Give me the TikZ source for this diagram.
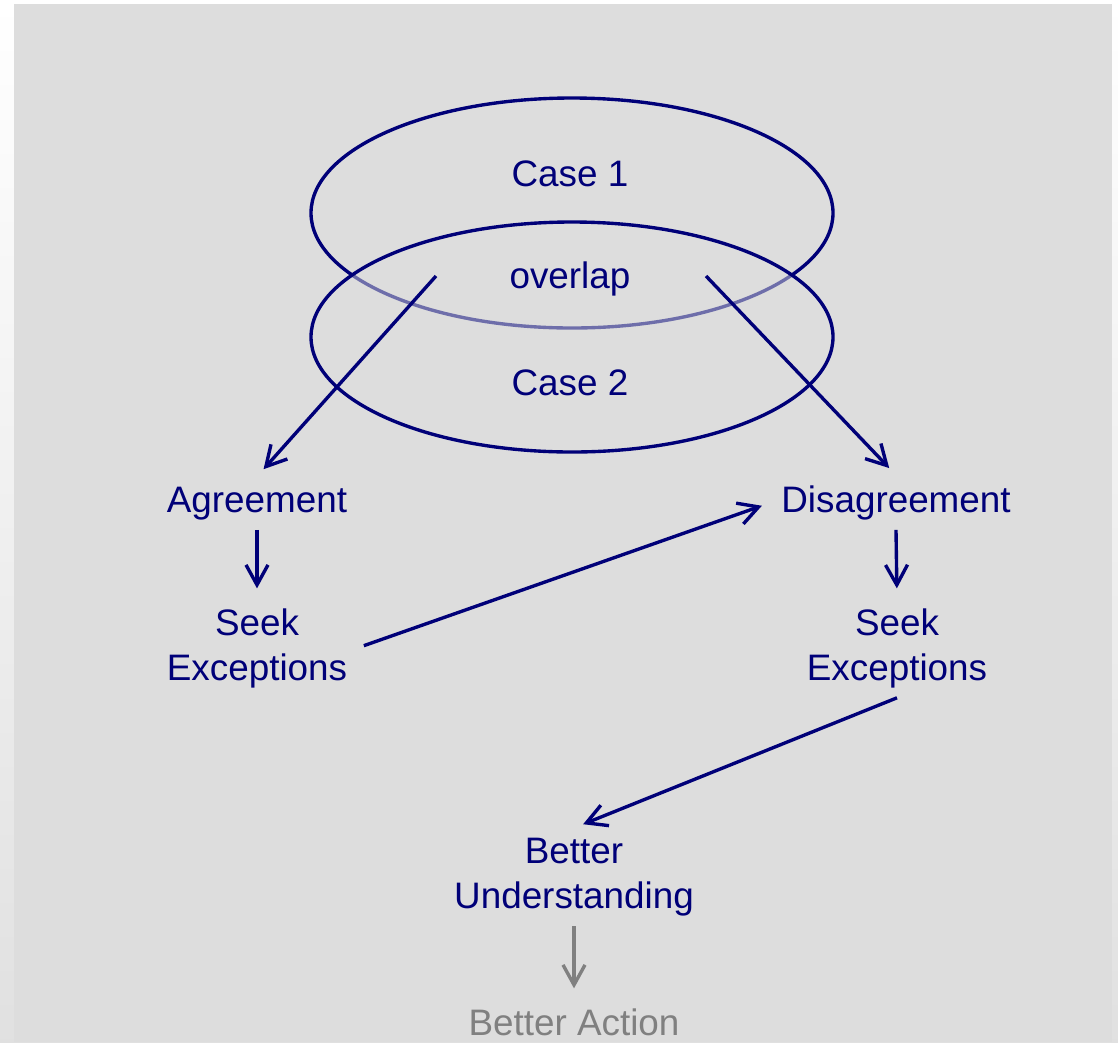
\documentclass[tikz,border=0pt]{standalone}
\usepackage{fontspec}
\setmainfont{Liberation Sans}
\usetikzlibrary{arrows.meta}
\definecolor{dnavy}{RGB}{0,0,120}
\definecolor{slide}{RGB}{221,221,221}
\definecolor{dimgrey}{RGB}{128,128,128}

\begin{document}
\begin{tikzpicture}[x=0.025cm, y=-0.025cm,
  every node/.style={font=\fontsize{26.2}{32}\selectfont, text=dnavy, inner sep=7pt, align=center},
  flow/.style={draw=dnavy, line width=2.4pt, -{Straight Barb[length=5mm, width=5.5mm]}, shorten >=7pt},
  ring/.style={draw=dnavy, line width=2.4pt}]
  % slide background
  \shade[top color=white, bottom color=black!12] (0,0) rectangle (1118,1042);
  \fill[slide] (14,4) rectangle (1112,1042);
  \useasboundingbox (0,0) rectangle (1118,1042);
  % the two cases, the lower one veils the rim of the upper one
  \draw[ring] (572,213) ellipse [x radius=261, y radius=115];
  \draw[ring, fill=slide, fill opacity=0.5] (572,337) ellipse [x radius=261, y radius=115];
  \node[anchor=base] (case1) at (570,186) {Case 1};
  \node[anchor=base] (ovl) at (570,288) {overlap};
  \node[anchor=base] (case2) at (570,395) {Case 2};
  \coordinate (ovlL) at (436,276);
  \coordinate (ovlR) at (706,276);
  % outcomes
  \node[anchor=base] (agr) at (257,512) {Agreement};
  \node[anchor=base] (dis) at (896,512) {Disagreement};
  \node (seekL) at (257,648) {Seek\\Exceptions};
  \node (seekR) at (897,648) {Seek\\Exceptions};
  \node (betterU) at (574,877) {Better\\Understanding};
  \node[anchor=base, text=dimgrey] (action) at (574,1035) {Better Action};
  % arrows
  \draw[flow] (ovlL) -- (agr.north);
  \draw[flow] (ovlR) -- (dis.north);
  \draw[flow] (agr.south) -- (seekL.north);
  \draw[flow] (dis.south) -- (seekR.north);
  \draw[flow, shorten <=5pt] (seekL.east) -- (dis.west);
  \draw[flow] (seekR.south) -- (betterU.north);
  \draw[flow, draw=dimgrey] (betterU.south) -- (action.north);
\end{tikzpicture}
\end{document}
